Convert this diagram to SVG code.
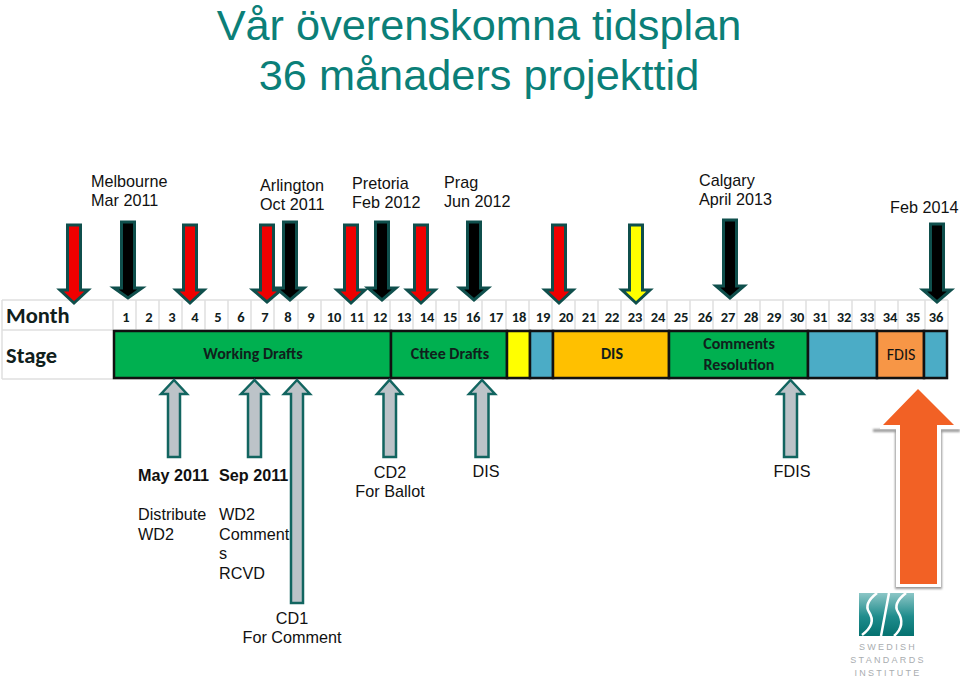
<svg xmlns="http://www.w3.org/2000/svg" width="960" height="679" viewBox="0 0 960 679">
<style>
text{font-family:"Liberation Sans",Arial,sans-serif;fill:#111}
.title{font-size:43.300px;fill:#0b7f78;text-anchor:middle}
.lbl{font-size:16.200px}
.c{text-anchor:middle}
.b{font-weight:bold}
.cal{font-family:"Carlito","Open Sans","Liberation Sans",sans-serif;font-weight:bold;fill:#10201c}
.hd{font-size:22.500px}
.m{font-size:14.500px;text-anchor:middle}
.st{font-size:16px;text-anchor:middle}
.grid{stroke:#e0e0e0;stroke-width:1.500;fill:none}
.seg{stroke:#111;stroke-width:2.500}
.dn{stroke:#0f4f4c;stroke-width:3;stroke-linejoin:miter}
.up{stroke:#126560;stroke-width:2.500;fill:#bcc3c8}
.red{fill:#f00000}.blk{fill:#000}.yel{fill:#ffff00}
.lg{font-size:9px;fill:#a9adb0;text-anchor:middle;letter-spacing:2.300px}
</style>
<defs>
<linearGradient id="lg" x1="0" y1="0" x2="0" y2="1"><stop offset="0" stop-color="#8cc6c6"/><stop offset="0.55" stop-color="#1f8c8c"/><stop offset="1" stop-color="#04716f"/></linearGradient>
<filter id="sh" x="-20%" y="-10%" width="140%" height="120%"><feGaussianBlur stdDeviation="1"/></filter>
</defs>
<rect width="960" height="679" fill="#fff"/>
<g id="title"><text class="title" x="479" y="40">Vår överenskomna tidsplan</text><text class="title" x="479" y="90">36 månaders projekttid</text></g>
<g id="top-labels">
<text class="lbl" x="91" y="187">Melbourne</text><text class="lbl" x="91" y="206">Mar 2011</text>
<text class="lbl" x="260" y="191">Arlington</text><text class="lbl" x="260" y="210">Oct 2011</text>
<text class="lbl" x="352" y="189">Pretoria</text><text class="lbl" x="352" y="208">Feb 2012</text>
<text class="lbl" x="444" y="188">Prag</text><text class="lbl" x="444" y="207">Jun 2012</text>
<text class="lbl" x="699" y="186">Calgary</text><text class="lbl" x="699" y="205">April 2013</text>
<text class="lbl" x="890" y="213">Feb 2014</text>
</g>
<g id="table">
<path class="grid" d="M2 300H948M2 330H948M2 379H948M2 300V379M113 300V330M136 300V330M159 300V330M182 300V330M205 300V330M228 300V330M251 300V330M274 300V330M298 300V330M321 300V330M344 300V330M367 300V330M390 300V330M413 300V330M436 300V330M459 300V330M482 300V330M506 300V330M529 300V330M552 300V330M575 300V330M598 300V330M621 300V330M644 300V330M667 300V330M690 300V330M713 300V330M737 300V330M760 300V330M783 300V330M806 300V330M829 300V330M852 300V330M875 300V330M898 300V330M925 300V330M948 300V330"/>
<text class="cal hd" x="6" y="323">Month</text><text class="cal hd" x="6" y="363">Stage</text>
<g>
<text class="cal m" x="126" y="322">1</text><text class="cal m" x="149" y="322">2</text><text class="cal m" x="172" y="322">3</text><text class="cal m" x="195" y="322">4</text><text class="cal m" x="218" y="322">5</text><text class="cal m" x="241" y="322">6</text><text class="cal m" x="265" y="322">7</text><text class="cal m" x="288" y="322">8</text><text class="cal m" x="311" y="322">9</text><text class="cal m" x="334" y="322">10</text><text class="cal m" x="357" y="322">11</text><text class="cal m" x="380" y="322">12</text><text class="cal m" x="404" y="322">13</text><text class="cal m" x="427" y="322">14</text><text class="cal m" x="450" y="322">15</text><text class="cal m" x="473" y="322">16</text><text class="cal m" x="496" y="322">17</text><text class="cal m" x="519" y="322">18</text><text class="cal m" x="543" y="322">19</text><text class="cal m" x="566" y="322">20</text><text class="cal m" x="589" y="322">21</text><text class="cal m" x="612" y="322">22</text><text class="cal m" x="635" y="322">23</text><text class="cal m" x="658" y="322">24</text><text class="cal m" x="681" y="322">25</text><text class="cal m" x="705" y="322">26</text><text class="cal m" x="728" y="322">27</text><text class="cal m" x="751" y="322">28</text><text class="cal m" x="774" y="322">29</text><text class="cal m" x="797" y="322">30</text><text class="cal m" x="820" y="322">31</text><text class="cal m" x="844" y="322">32</text><text class="cal m" x="867" y="322">33</text><text class="cal m" x="890" y="322">34</text><text class="cal m" x="913" y="322">35</text><text class="cal m" x="936" y="322">36</text>
</g>
</g>
<g id="stages">
<rect class="seg" x="114" y="331" width="277" height="47" fill="#00b050"/>
<rect class="seg" x="391" y="331" width="116" height="47" fill="#00b050"/>
<rect class="seg" x="507" y="331" width="23" height="47" fill="#ffff00"/>
<rect class="seg" x="530" y="331" width="23" height="47" fill="#4bacc6"/>
<rect class="seg" x="553" y="331" width="116" height="47" fill="#ffc000"/>
<rect class="seg" x="669" y="331" width="139" height="47" fill="#00b050"/>
<rect class="seg" x="808" y="331" width="69" height="47" fill="#4bacc6"/>
<rect class="seg" x="877" y="331" width="47" height="47" fill="#f79646"/>
<rect class="seg" x="924" y="331" width="23" height="47" fill="#4bacc6"/>
<text class="cal st" x="253" y="359">Working Drafts</text>
<text class="cal st" x="450" y="359">Cttee Drafts</text>
<text class="cal st" x="612" y="359">DIS</text>
<text class="cal st" x="739" y="349">Comments</text><text class="cal st" x="739" y="370">Resolution</text>
<text class="st" style="font-family:Carlito,'Open Sans','Liberation Sans',sans-serif" x="901" y="360">FDIS</text>
</g>
<g id="connectors">
<path class="dn red" d="M67.500 225H80.500V290H88L74 303L60 290H67.500Z"/>
<path class="dn blk" d="M121.500 222H134.500V288H142L128 298L114 288H121.500Z"/>
<path class="dn red" d="M183.500 225H196.500V290H204L190 303L176 290H183.500Z"/>
<path class="dn red" d="M260.500 225H273.500V290H281L267 302L253 290H260.500Z"/>
<path class="dn blk" d="M283.500 222H296.500V288H304L290 300L276 288H283.500Z"/>
<path class="dn red" d="M344.500 225H357.500V290H365L351 303L337 290H344.500Z"/>
<path class="dn blk" d="M375.500 222H388.500V288H396L382 300L368 288H375.500Z"/>
<path class="dn red" d="M414.500 225H427.500V290H435L421 303L407 290H414.500Z"/>
<path class="dn blk" d="M467.500 222H480.500V288H488L474 300L460 288H467.500Z"/>
<path class="dn red" d="M552.500 225H565.500V290H573L559 303L545 290H552.500Z"/>
<path class="dn yel" d="M629.500 225H642.500V290H650L636 303L622 290H629.500Z"/>
<path class="dn blk" d="M723.500 220H736.500V286H744L730 298L716 286H723.500Z"/>
<path class="dn blk" d="M930.500 224H943.500V290H951L937 302L923 290H930.500Z"/>
<path class="up" d="M168 457V394H161L174 380L187 394H180V457Z"/>
<path class="up" d="M248 457V394H241L254.500 380L268 394H261V457Z"/>
<path class="up" d="M291 603V394H284L297 380L310 394H303V603Z"/>
<path class="up" d="M383.500 457V394H377L389.500 380L402 394H396V457Z"/>
<path class="up" d="M475.500 457V394H469L482 380L495 394H488.500V457Z"/>
<path class="up" d="M784 457V394H777.500L790.500 380L803.500 394H797V457Z"/>
<path d="M873 429H960V432H942V589H895V432H873Z" fill="#999" filter="url(#sh)"/>
<path d="M880 425H960V429H941V587H896V429H880Z" fill="#fff"/>
<path d="M900 584V425H883L918 389L954 425H937V584Z" fill="#f26125"/>
</g>
<g id="bottom-labels">
<text class="lbl b" x="138" y="481">May 2011</text><text class="lbl b" x="219" y="481">Sep 2011</text>
<text class="lbl" x="138" y="520">Distribute</text><text class="lbl" x="138" y="540">WD2</text>
<text class="lbl" x="219" y="520">WD2</text><text class="lbl" x="219" y="540">Comment</text><text class="lbl" x="219" y="559">s</text><text class="lbl" x="219" y="579">RCVD</text>
<text class="lbl c" x="390" y="478">CD2</text><text class="lbl c" x="390" y="497">For Ballot</text>
<text class="lbl c" x="486" y="477">DIS</text><text class="lbl c" x="792" y="477">FDIS</text>
<text class="lbl c" x="292" y="624">CD1</text><text class="lbl c" x="292" y="643">For Comment</text>
</g>
<g id="logo">
<rect x="859" y="593" width="55" height="43" fill="url(#lg)"/>
<path d="M877 593C868 600 865 606 869 612C873 618 874 626 862 635M889 593L881 636M906 593C897 600 894 606 898 612C903 620 903 628 894 636" fill="none" stroke="#fff" stroke-width="2.500"/>
<text class="lg" x="888" y="650">SWEDISH</text><text class="lg" x="888" y="663">STANDARDS</text><text class="lg" x="888" y="676">INSTITUTE</text>
</g>
</svg>
